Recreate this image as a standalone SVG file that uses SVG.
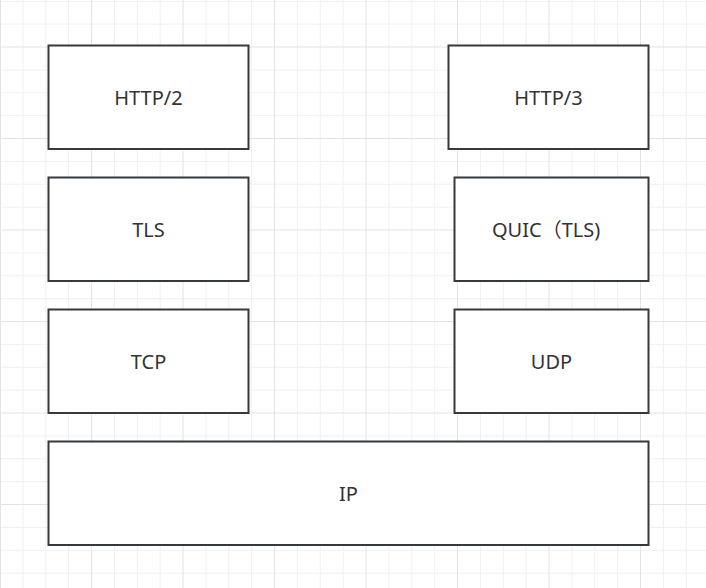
<svg xmlns="http://www.w3.org/2000/svg" width="706" height="588" viewBox="0 0 706 588">
  <style>
    .minor { stroke: #f0f0f0; stroke-width: 1; fill: none; }
    .major { stroke: #e3e3e3; stroke-width: 1; fill: none; }
    .box { fill: #ffffff; stroke: #36393d; stroke-width: 2; }
    .label { font-family: "Noto Sans", "Noto Sans CJK SC", sans-serif; font-size: 20px; fill: #333333; text-anchor: middle; }
  </style>
  <rect x="0" y="0" width="706" height="588" fill="#ffffff"/>
  <g id="grid">
    <path class="minor" d="M22.875 0V588M45.75 0V588M68.625 0V588M114.375 0V588M137.25 0V588M160.125 0V588M205.875 0V588M228.75 0V588M251.625 0V588M297.375 0V588M320.25 0V588M343.125 0V588M388.875 0V588M411.75 0V588M434.625 0V588M480.375 0V588M503.25 0V588M526.125 0V588M571.875 0V588M594.75 0V588M617.625 0V588M663.375 0V588M686.25 0V588"/>
    <path class="minor" d="M0 1.25H706M0 24.125H706M0 69.875H706M0 92.75H706M0 115.625H706M0 161.375H706M0 184.25H706M0 207.125H706M0 252.875H706M0 275.75H706M0 298.625H706M0 344.375H706M0 367.25H706M0 390.125H706M0 435.875H706M0 458.75H706M0 481.625H706M0 527.375H706M0 550.25H706M0 573.125H706"/>
    <path class="major" d="M0.5 0V588M91.5 0V588M183 0V588M274.5 0V588M366 0V588M457.5 0V588M549 0V588M640.5 0V588"/>
    <path class="major" d="M0 47H706M0 138.5H706M0 230H706M0 321.5H706M0 413H706M0 504.5H706"/>
  </g>
  <g id="connectors"/>
  <g id="http2">
    <rect class="box" x="48.5" y="45.5" width="200" height="103.5"/>
    <text class="label" x="148.5" y="105">HTTP/2</text>
  </g>
  <g id="tls">
    <rect class="box" x="48.5" y="177.5" width="200" height="103.5"/>
    <text class="label" x="148.5" y="237">TLS</text>
  </g>
  <g id="tcp">
    <rect class="box" x="48.5" y="309.5" width="200" height="103.5"/>
    <text class="label" x="148.5" y="368.5">TCP</text>
  </g>
  <g id="http3">
    <rect class="box" x="448.5" y="45.5" width="200" height="103.5"/>
    <text class="label" x="548.5" y="105">HTTP/3</text>
  </g>
  <g id="quic">
    <rect class="box" x="454.5" y="177.5" width="194" height="103.5"/>
    <text class="label" x="492" y="237" style="text-anchor:start">QUIC（TLS)</text>
  </g>
  <g id="udp">
    <rect class="box" x="454.5" y="309.5" width="194" height="103.5"/>
    <text class="label" x="551.5" y="368.5">UDP</text>
  </g>
  <g id="ip">
    <rect class="box" x="48.5" y="441.5" width="600" height="103.5"/>
    <text class="label" x="348.5" y="500.5">IP</text>
  </g>
</svg>
